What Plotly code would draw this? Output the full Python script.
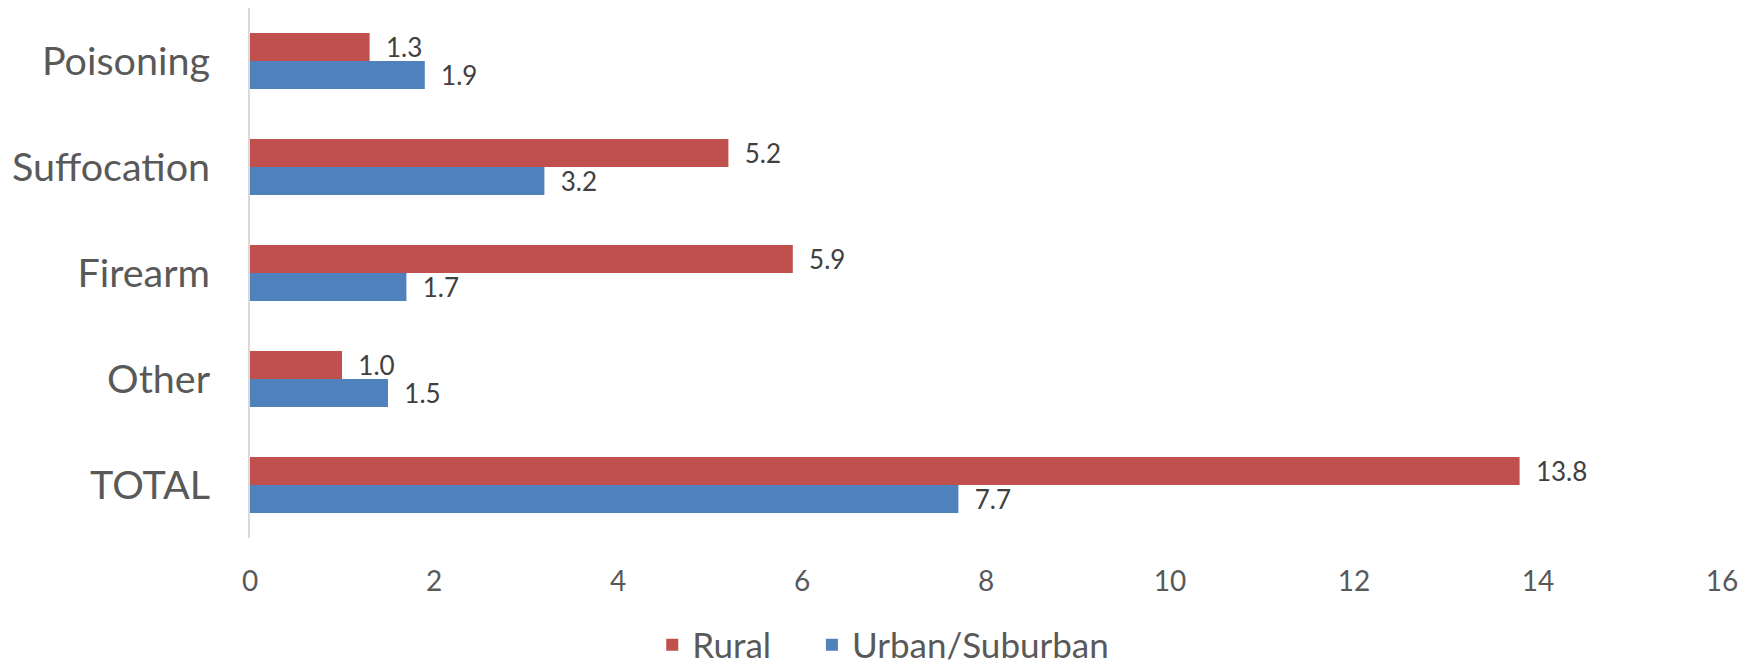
import plotly.graph_objects as go

# Data
categories = ['Poisoning', 'Suffocation', 'Firearm', 'Other', 'TOTAL']
rural = [1.3, 5.2, 5.9, 1.0, 13.8]
urban = [1.9, 3.2, 1.7, 1.5, 7.7]

RED = '#C0504D'
BLUE = '#4F81BD'
TEXT = '#595959'
FONT = 'Lato, Open Sans, sans-serif'

fig = go.Figure()

# Plotly puts the first trace at the bottom of each group, so Urban goes first
fig.add_trace(go.Bar(
    y=categories, x=urban, orientation='h', name='Urban/Suburban',
    marker_color=BLUE, marker_line_width=0,
    text=[f'  {v:.1f}' for v in urban],
    textposition='outside', textfont=dict(size=26, color='#404040'),
    constraintext='none', cliponaxis=False
))
fig.add_trace(go.Bar(
    y=categories, x=rural, orientation='h', name='Rural\u00a0\u00a0\u00a0\u00a0',
    marker_color=RED, marker_line_width=0,
    text=[f'  {v:.1f}' for v in rural],
    textposition='outside', textfont=dict(size=26, color='#404040'),
    constraintext='none', cliponaxis=False
))

# the page body adds an 8px offset, margins below compensate for it
fig.update_layout(
    width=1754, height=665,
    barmode='group', bargap=0.473, bargroupgap=0,
    plot_bgcolor='white', paper_bgcolor='white',
    font=dict(family=FONT, color=TEXT),
    margin=dict(l=242, r=40, t=0, b=135, autoexpand=False),
    legend=dict(
        orientation='h', traceorder='reversed',
        xref='container', yref='container',
        x=0.499, xanchor='center', y=0.042, yanchor='middle',
        font=dict(size=35, color=TEXT), itemwidth=30
    ),
    xaxis=dict(
        range=[0, 16], dtick=2, showgrid=False, zeroline=False,
        showline=False, tickfont=dict(size=28, color=TEXT),
        ticklabelstandoff=24, automargin=False
    ),
    yaxis=dict(
        categoryorder='array', categoryarray=categories[::-1],
        showgrid=False, showline=True, linecolor='#D9D9D9', linewidth=2,
        tickfont=dict(size=39.5, color=TEXT), ticklabelstandoff=30,
        automargin=False
    ),
)

fig.write_html("out.html")
